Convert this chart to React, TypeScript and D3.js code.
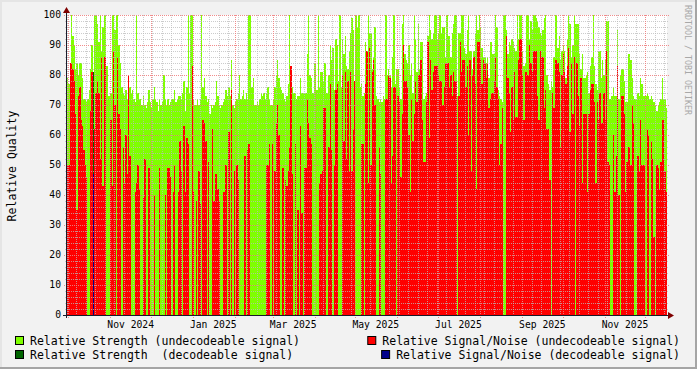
import React, { useEffect, useRef } from "react";
import * as d3 from "d3";

// daily values, first day = startDay
const startDay = "2024-09-30";

const strengthUndecodeable = [
  79, 77, 84, 100, 93, 90, 82, 84, 80, 84,
  84, 79, 72, 72, 71, 72, 75, 82, 90, 0,
  100, 100, 97, 91, 100, 88, 96, 100, 100, 83,
  73, 73, 74, 100, 100, 95, 100, 100, 90, 84,
  76, 74, 73, 75, 72, 80, 76, 74, 75, 72,
  71, 100, 74, 72, 72, 70, 73, 70, 69, 71,
  75, 71, 69, 72, 76, 72, 71, 68, 72, 70,
  71, 80, 72, 70, 72, 70, 71, 72, 72, 75,
  71, 72, 73, 73, 72, 74, 78, 68, 76, 100,
  74, 100, 100, 72, 70, 70, 72, 70, 72, 100,
  76, 79, 73, 71, 72, 67, 70, 69, 70, 71,
  78, 73, 70, 69, 70, 71, 72, 75, 73, 76,
  73, 85, 70, 69, 71, 72, 74, 80, 72, 73,
  75, 72, 74, 72, 100, 100, 76, 79, 70, 70,
  71, 70, 72, 74, 73, 74, 72,
  74, 76, 72, 70, 70, 72, 76, 80, 85, 79,
  76, 75, 74, 72, 71, 73, 77, 100, 83, 76,
  74, 74, 72, 73, 73, 79, 74, 74, 74, 74,
  87, 100, 80, 79, 74, 84, 84, 75, 100, 76,
  81, 81, 78, 84, 74, 74, 80, 90, 85, 89,
  75, 92, 90, 78, 100, 76, 92, 87, 93, 83,
  82, 88, 94, 99, 95, 78, 100, 96, 100, 76,
  77, 73, 74, 91,
  78, 100, 94, 94, 82, 86, 96, 73, 72, 71,
  72, 71, 73, 72, 100, 80, 82, 80, 76, 86,
  100, 77, 82, 82, 76, 72, 97, 100, 87, 85,
  84, 90, 80, 84, 74, 100, 92, 81, 97, 82,
  91, 91, 72, 73, 74, 93, 100, 95, 92, 94,
  100, 100, 92, 94, 100, 94, 96, 96, 86, 100,
  93, 93, 86, 94, 97, 100, 100, 73, 94, 94,
  100, 100, 89, 87,
  95, 100, 88, 88, 82, 88, 94, 100, 95, 100,
  96, 89, 86, 86, 84, 86, 79, 91, 91, 87,
  87, 100, 96, 75, 73, 72, 71, 100, 100, 95,
  87, 91, 90, 92, 91, 89, 88, 100, 92, 100,
  100, 88, 83, 84, 100, 100, 92, 98, 95, 100,
  100, 99, 98, 96, 94, 93, 95, 99, 100, 80,
  77, 75, 78, 76, 86, 100, 100, 89, 93, 85,
  88, 90, 88, 79,
  92, 100, 97, 86, 90, 100, 97, 97, 97, 87,
  82, 87, 79, 79, 80, 81, 74, 83, 86, 100,
  83, 77, 75, 88, 88, 79, 85, 80, 85, 98,
  98, 72, 72, 73, 76, 73, 73, 95, 72, 80,
  82, 82, 78, 71, 71, 87, 87, 85, 79, 73,
  72, 72, 74, 73, 79, 77, 73, 73, 73, 74,
  73, 72, 73, 72, 71, 70, 68, 70, 71, 72,
  79, 72, 72, 69,
];

const snrUndecodeable = [
  50, 50, 84, 84, 82, 78, 67, 35, 73, 76,
  65, 63, 55, 50, 46, 0, 0, 68, 81, 0,
  62, 74, 78, 74, 52, 86, 43, 86, 86, 0,
  0, 0, 65, 43, 88, 70, 0, 86, 67, 62,
  0, 56, 44, 60, 47, 80, 53, 0, 0, 0,
  41, 44, 50, 42, 0, 0, 39, 52, 0, 0,
  49, 0, 0, 0, 40, 0, 0, 0, 49, 0,
  0, 0, 40, 0, 49, 49, 46, 0, 41, 50,
  0, 0, 41, 58, 48, 0, 63, 41, 59, 57,
  0, 0, 83, 41, 0, 38, 0, 48, 37, 0,
  65, 64, 58, 0, 51, 0, 0, 62, 38, 47,
  47, 42, 38, 0, 0, 41, 41, 50, 0, 61,
  0, 75, 0, 48, 0, 50, 45, 0, 0, 0,
  0, 53, 0, 55, 57, 0, 0, 0, 0, 0,
  0, 0, 0, 0, 0, 0, 0,
  50, 50, 57, 0, 57, 0, 48, 64, 70, 60,
  0, 0, 49, 0, 45, 43, 48, 56, 83, 47,
  0, 57, 0, 35, 0, 63, 34, 0, 49, 49,
  72, 64, 59, 57, 0, 0, 0, 0, 0, 44,
  47, 48, 69, 69, 0, 0, 56, 77, 55, 0,
  50, 75, 77, 0, 0, 0, 80, 58, 81, 52,
  78, 48, 81, 48, 62, 78, 0, 0, 0, 0,
  57, 57, 0, 77,
  88, 44, 89, 50, 81, 85, 70, 0, 0, 56,
  47, 0, 0, 0, 72, 72, 80, 79, 44, 53,
  76, 76, 0, 73, 71, 46, 67, 90, 78, 78,
  76, 60, 41, 72, 58, 67, 78, 71, 80, 80,
  85, 65, 51, 51, 71, 91, 59, 85, 75, 81,
  83, 83, 83, 80, 78, 78, 70, 76, 84, 84,
  84, 76, 80, 73, 81, 78, 78, 0, 73, 91,
  81, 85, 85, 76,
  83, 60, 85, 48, 80, 86, 77, 42, 91, 91,
  85, 77, 85, 84, 79, 84, 69, 72, 74, 74,
  78, 86, 76, 72, 50, 57, 69, 0, 0, 93,
  79, 74, 61, 76, 65, 81, 66, 66, 85, 92,
  92, 80, 65, 81, 81, 80, 90, 84, 81, 88,
  88, 88, 73, 65, 88, 86, 86, 69, 75, 62,
  62, 45, 0, 74, 69, 85, 85, 84, 81, 56,
  80, 87, 81, 77,
  83, 89, 61, 84, 67, 86, 0, 84, 73, 63,
  79, 44, 67, 67, 67, 41, 67, 75, 77, 77,
  71, 44, 71, 65, 74, 64, 64, 74, 65, 88,
  51, 50, 0, 0, 60, 41, 53, 83, 40, 0,
  73, 73, 67, 41, 51, 56, 56, 50, 70, 64,
  0, 0, 53, 48, 65, 50, 50, 50, 0, 62,
  60, 0, 58, 52, 26, 0, 50, 49, 42, 51,
  65, 65, 48, 41,
];

const decodeableDays = ["2024-10-19"];
const strengthDecodeable = [81];
const snrDecodeable = [47];

const yMajorTicks = [0, 10, 20, 30, 40, 50, 60, 70, 80, 90, 100];
const xLabelMonths = ["2024-11-01", "2025-01-01", "2025-03-01", "2025-05-01", "2025-07-01", "2025-09-01", "2025-11-01"];

const legendItems = [
  { label: "Relative Strength (undecodeable signal)", color: "#7FFF00", col: 0, row: 0 },
  { label: "Relative Signal/Noise (undecodeable signal)", color: "#FF0000", col: 1, row: 0 },
  { label: "Relative Strength  (decodeable signal)", color: "#006400", col: 0, row: 1 },
  { label: "Relative Signal/Noise (decodeable signal)", color: "#00008B", col: 1, row: 1 },
];

const W = 697;
const H = 369;
const FONT = "'DejaVu Sans Mono', monospace";

export default function App() {
  const ref = useRef<SVGSVGElement>(null);

  useEffect(() => {
    const svg = d3.select(ref.current);
    svg.selectAll("*").remove();

    const parse = d3.timeParse("%Y-%m-%d");
    const start = parse(startDay) as Date;
    const n = strengthUndecodeable.length;
    const end = d3.timeDay.offset(start, n);

    const x = d3.scaleTime().domain([start, end]).range([67, 667]);
    const y = d3.scaleLinear().domain([0, 100]).range([315, 15]);

    // background + frame
    svg.append("rect").attr("width", W).attr("height", H).attr("fill", "#F2F2F2");
    svg.append("path").attr("d", `M0,0H${W}V2H2V${H}H0Z`).attr("fill", "#E5E5E5");
    svg.append("path").attr("d", `M${W},${H}H0V${H - 2}H${W - 2}V0H${W}Z`).attr("fill", "#A5A5A5");
    svg.append("rect").attr("x", 67).attr("y", 15).attr("width", 600).attr("height", 300).attr("fill", "#FFFFFF");

    const toPoints = (vals: number[]) => {
      const pts = vals.map((v, i) => ({ t: d3.timeDay.offset(start, i), v }));
      pts.push({ t: end, v: vals[vals.length - 1] });
      return pts;
    };
    const area = d3.area<{ t: Date; v: number }>()
      .x(d => x(d.t))
      .y0(y(0))
      .y1(d => y(d.v))
      .curve(d3.curveStepAfter);

    const plot = svg.append("g").attr("shape-rendering", "crispEdges");
    plot.append("path").attr("d", area(toPoints(strengthUndecodeable))).attr("fill", "#7FFF00");
    plot.append("path").attr("d", area(toPoints(snrUndecodeable))).attr("fill", "#FF0000");

    decodeableDays.forEach((ds, i) => {
      const t0 = parse(ds) as Date;
      const t1 = d3.timeDay.offset(t0, 1);
      plot.append("rect")
        .attr("x", x(t0)).attr("width", x(t1) - x(t0))
        .attr("y", y(strengthDecodeable[i])).attr("height", y(0) - y(strengthDecodeable[i]))
        .attr("fill", "#006400");
      plot.append("rect")
        .attr("x", x(t0)).attr("width", x(t1) - x(t0))
        .attr("y", y(snrDecodeable[i])).attr("height", y(0) - y(snrDecodeable[i]))
        .attr("fill", "#00008B");
    });

    // grid on top of the data
    const grid = svg.append("g").attr("shape-rendering", "crispEdges");
    const weeks = d3.timeMonday.range(start, end);
    const months = d3.timeMonth.range(start, end);
    const minorY = d3.range(0, 101, 2).filter(v => v % 10 !== 0);

    grid.selectAll(".vminor").data(weeks).join("line")
      .attr("x1", d => Math.round(x(d)) + 0.5).attr("x2", d => Math.round(x(d)) + 0.5)
      .attr("y1", 15).attr("y2", 317)
      .attr("stroke", "#BBBBBB").attr("stroke-opacity", 0.75).attr("stroke-dasharray", "1,1");
    grid.selectAll(".hminor").data(minorY).join("line")
      .attr("x1", 65).attr("x2", 669)
      .attr("y1", d => Math.round(y(d)) + 0.5).attr("y2", d => Math.round(y(d)) + 0.5)
      .attr("stroke", "#BBBBBB").attr("stroke-opacity", 0.75).attr("stroke-dasharray", "1,1");
    grid.selectAll(".vmajor").data(months).join("line")
      .attr("x1", d => Math.round(x(d)) + 0.5).attr("x2", d => Math.round(x(d)) + 0.5)
      .attr("y1", 15).attr("y2", 318)
      .attr("stroke", "#F08080").attr("stroke-opacity", 0.9).attr("stroke-dasharray", "1,1");
    grid.selectAll(".hmajor").data(yMajorTicks.filter(v => v > 0)).join("line")
      .attr("x1", 64).attr("x2", 670)
      .attr("y1", d => Math.round(y(d)) + 0.5).attr("y2", d => Math.round(y(d)) + 0.5)
      .attr("stroke", "#F08080").attr("stroke-opacity", 0.9).attr("stroke-dasharray", "1,1");

    // axes
    const axisColor = "#1A1A2A";
    grid.append("line").attr("x1", 63).attr("x2", 670).attr("y1", 315.5).attr("y2", 315.5).attr("stroke", axisColor);
    grid.append("line").attr("x1", 66.5).attr("x2", 66.5).attr("y1", 12).attr("y2", 318).attr("stroke", axisColor);
    svg.append("path").attr("d", "M668,312L674,315.5L668,319Z").attr("fill", "#7F0000");
    svg.append("path").attr("d", "M63,13L66.5,7L70,13Z").attr("fill", "#7F0000");

    // y labels
    svg.selectAll(".ylab").data(yMajorTicks).join("text")
      .attr("x", 61).attr("y", d => y(d)).attr("dy", "0.36em")
      .attr("text-anchor", "end").attr("font-family", FONT).attr("font-size", 9.7)
      .attr("fill", "#000").text(d => String(d));

    // x labels, centred mid-month
    svg.selectAll(".xlab").data(xLabelMonths.map(s => parse(s) as Date)).join("text")
      .attr("x", d => x(d3.timeDay.offset(d, 15)))
      .attr("y", 327.5)
      .attr("text-anchor", "middle").attr("font-family", FONT).attr("font-size", 9.7)
      .attr("fill", "#000").text(d => d3.timeFormat("%b %Y")(d));

    // y title
    svg.append("text")
      .attr("transform", "translate(16,166) rotate(-90)")
      .attr("text-anchor", "middle").attr("font-family", FONT).attr("font-size", 11.5)
      .attr("fill", "#000").text("Relative Quality");

    // watermark
    svg.append("text")
      .attr("transform", "translate(685,5) rotate(90)")
      .attr("font-family", FONT).attr("font-size", 8.3)
      .attr("fill", "#A8A8A8").text("RRDTOOL / TOBI OETIKER");

    // legend
    legendItems.forEach(item => {
      const baseY = item.row === 0 ? 345 : 359;
      const t = svg.append("text")
        .attr("y", baseY).attr("font-family", FONT).attr("font-size", 11.5)
        .attr("fill", "#000").attr("xml:space", "preserve").style("white-space", "pre")
        .text(item.label);
      let textX = 30;
      if (item.col === 1) {
        const len = (t.node() as SVGTextElement).getComputedTextLength();
        textX = 680 - len;
      }
      t.attr("x", textX);
      svg.append("rect")
        .attr("x", textX - 14.5).attr("y", baseY - 8.5)
        .attr("width", 8).attr("height", 8)
        .attr("fill", item.color).attr("stroke", "#000").attr("stroke-width", 1);
    });
  }, []);

  return (
    <svg ref={ref} width={W} height={H} style={{ position: "absolute", left: 0, top: 0 }} />
  );
}
